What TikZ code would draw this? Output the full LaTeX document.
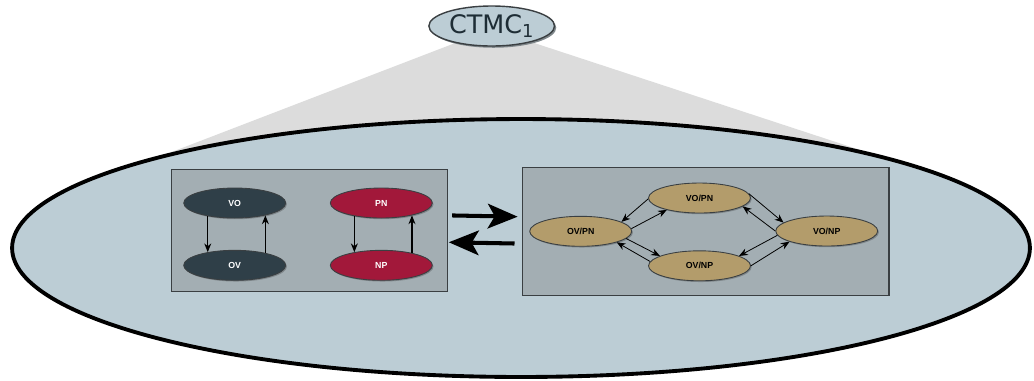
\documentclass[tikz,border=0pt]{standalone}
\usepackage{fontspec}
\setmainfont{Liberation Sans}
\newfontfamily\ctmcfont{DejaVu Sans}
\usetikzlibrary{arrows.meta,shapes.geometric,backgrounds}
\definecolor{bodyblue}{HTML}{BCCDD5}
\definecolor{boxgray}{HTML}{A3AEB3}
\definecolor{conegray}{HTML}{DCDCDC}
\definecolor{vocolor}{HTML}{2F3F48}
\definecolor{pncolor}{HTML}{A2183A}
\definecolor{jointcolor}{HTML}{B39C6B}
\definecolor{inkgray}{HTML}{3A3F42}
\definecolor{ctmcink}{HTML}{1E2D35}
\definecolor{shadowgray}{HTML}{7F878B}
\tikzset{
    chain state/.style={
        ellipse, draw=inkgray, line width=0.5pt,
        minimum width=2.04cm, minimum height=0.6cm, inner sep=0pt,
        font=\fontsize{5}{6}\selectfont\bfseries,
        preaction={fill=shadowgray, transform canvas={xshift=0.7pt, yshift=-0.7pt}}
    },
    vo state/.style={chain state, fill=vocolor, text=white},
    pn state/.style={chain state, fill=pncolor, text=white},
    joint state/.style={chain state, fill=jointcolor, text=black},
    model box/.style={
        rectangle, draw=inkgray, line width=0.6pt, fill=boxgray
    },
    single flip/.style={-{Stealth[length=5pt,width=4pt]}, line width=0.7pt},
    joint move/.style={-{Stealth[length=5pt,width=4pt]}, line width=0.45pt},
    model swap/.style={-{Stealth[length=17pt,width=14pt,inset=4pt]}, line width=2.3pt}
}

\begin{document}
\begin{tikzpicture}[x=0.02cm,y=-0.02cm]
\useasboundingbox (0,0) rectangle (1034,380);

\node[ellipse, draw=inkgray, line width=0.8pt, fill=bodyblue,
  minimum width=2.4cm, minimum height=0.8cm, inner sep=1pt,
  preaction={fill=shadowgray, transform canvas={xshift=1pt, yshift=-1pt}},
  font=\ctmcfont\fontsize{14.5}{16}\selectfont, text=ctmcink]
  (ctmc) at (491.7,26) {CTMC\textsubscript{1}};

\node[ellipse, draw=black, line width=2.2pt, fill=bodyblue,
  minimum width=20.36cm, minimum height=5.16cm] (body) at (521,248) {};

\begin{scope}[on background layer]
  \fill[conegray] (ctmc.205) -- (ctmc.338) -- (body.16) -- (body.165) -- cycle;
\end{scope}

\node[model box, minimum width=5.51cm, minimum height=2.45cm] (singles) at (309.5,230.3) {};
\node[model box, minimum width=7.33cm, minimum height=2.57cm] (joint) at (705.8,231.7) {};

\node[vo state] (vo) at (234.7,203) {VO};
\node[vo state] (ov) at (234.7,265.3) {OV};
\node[pn state] (pn) at (381.3,203) {PN};
\node[pn state] (np) at (381.3,265.3) {NP};

\draw[single flip] (vo.206) -- (ov.154);
\draw[single flip] (ov.22) -- (vo.338);
\draw[single flip] (pn.206) -- (np.154);
\draw[single flip] (np.22) -- (pn.338);

\node[joint state] (ovpn) at (580.7,231.3) {OV/PN};
\node[joint state] (vopn) at (699.5,198) {VO/PN};
\node[joint state] (ovnp) at (699.5,265.8) {OV/NP};
\node[joint state] (vonp) at (826.7,231) {VO/NP};

\draw[joint move] (ovpn.3) -- (vopn.200);
\draw[joint move] (vopn.181) -- (ovpn.13);
\draw[joint move] (ovpn.351) -- (ovnp.166);
\draw[joint move] (ovnp.175) -- (ovpn.343);
\draw[joint move] (vopn.5) -- (vonp.169);
\draw[joint move] (vonp.180) -- (vopn.349);
\draw[joint move] (vonp.185) -- (ovnp.14);
\draw[joint move] (ovnp.0) -- (vonp.196);

\draw[model swap, shorten <=2.5pt, shorten >=2.5pt]
  ([yshift=8.5pt]singles.east) -- ([yshift=8.5pt]joint.west);
\draw[model swap, shorten <=4.3pt, shorten >=0.6pt]
  ([yshift=-6.8pt]joint.west) -- ([yshift=-6.8pt]singles.east);
\end{tikzpicture}
\end{document}
